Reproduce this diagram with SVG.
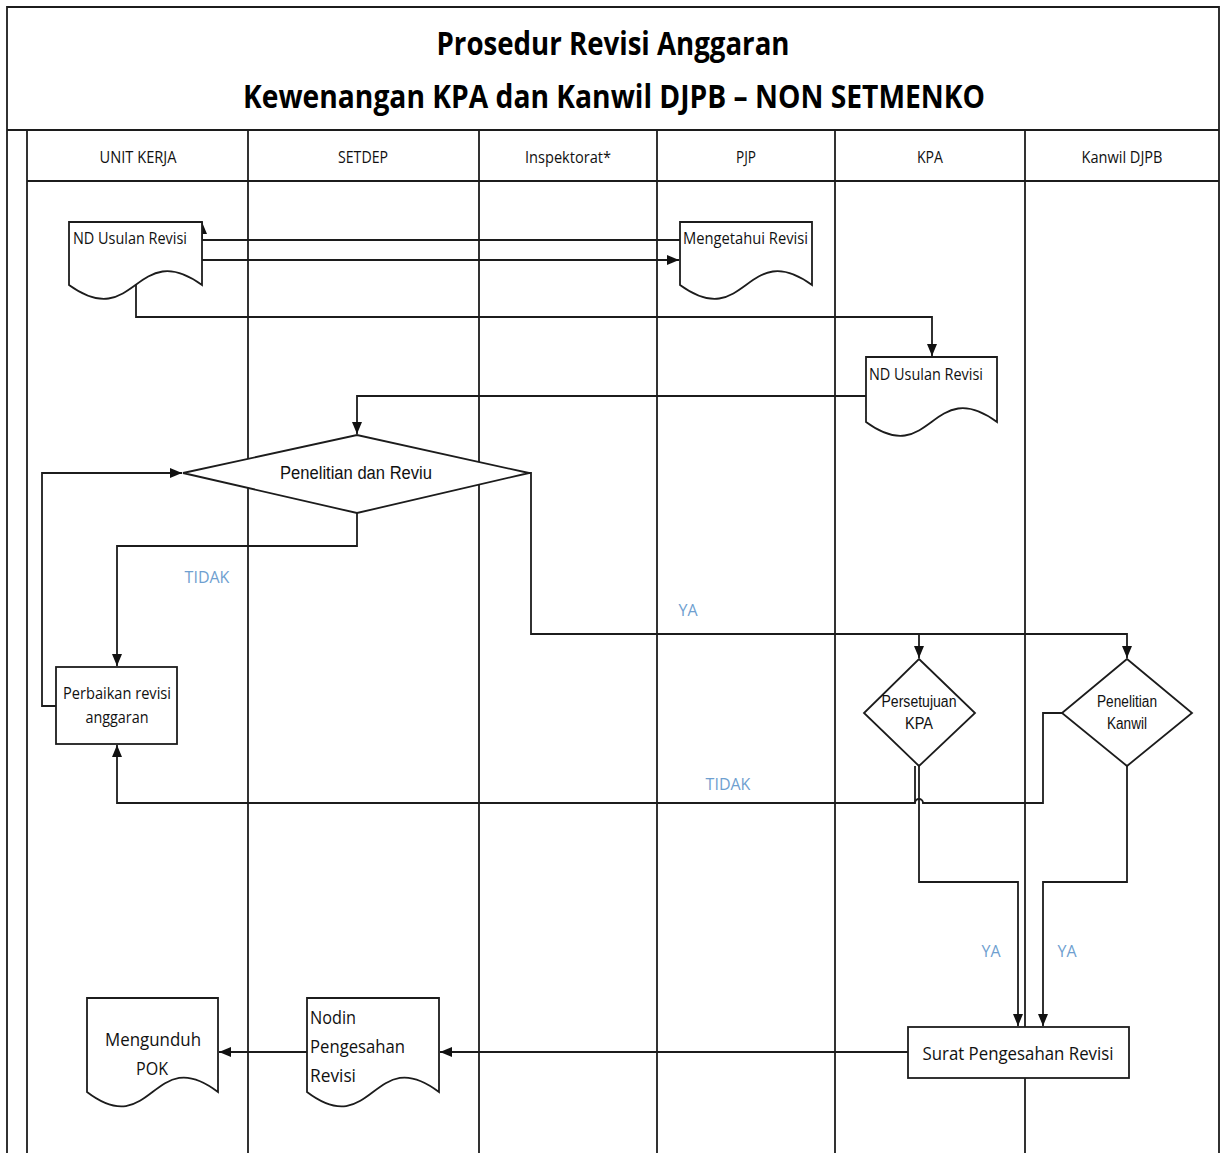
<svg xmlns="http://www.w3.org/2000/svg" width="1221" height="1153" viewBox="0 0 1221 1153">
  <style>
    .lane { stroke: #1c1c1c; stroke-width: 1.8; fill: none; }
    .shape { fill: #ffffff; stroke: #1c1c1c; stroke-width: 1.8; }
    .conn { fill: none; stroke: #1c1c1c; stroke-width: 1.8; }
    .title { font-family: "Open Sans", "Noto Sans", sans-serif; font-weight: bold; font-size: 32px; fill: #000; }
    .head { font-family: "Open Sans", "Noto Sans", sans-serif; font-size: 16px; fill: #111; }
    .cal { font-family: "Open Sans", "Noto Sans", sans-serif; fill: #111; }
    .ari { font-family: "Liberation Sans", Arial, sans-serif; fill: #111; }
    .lbl { font-family: "Open Sans", "Noto Sans", sans-serif; font-size: 16px; fill: #6f9fd0; }
  </style>
  <defs>
    <marker id="arrow" viewBox="0 0 12 10" refX="12" refY="5" markerWidth="12" markerHeight="10" markerUnits="userSpaceOnUse" orient="auto">
      <path d="M0,0 L12,5 L0,10 Z" fill="#111"/>
    </marker>
  </defs>

  <rect x="0" y="0" width="1221" height="1153" fill="#ffffff"/>

  <!-- pool frame, title band and lanes -->
  <g id="pool">
    <path class="lane" d="M7,1153 V7 H1219 V1153"/>
    <line class="lane" x1="7" y1="130" x2="1219" y2="130"/>
    <line class="lane" x1="27" y1="181" x2="1219" y2="181"/>
    <line class="lane" x1="27" y1="130" x2="27" y2="1153"/>
    <line class="lane" x1="248" y1="130" x2="248" y2="1153"/>
    <line class="lane" x1="479" y1="130" x2="479" y2="1153"/>
    <line class="lane" x1="657" y1="130" x2="657" y2="1153"/>
    <line class="lane" x1="835" y1="130" x2="835" y2="1153"/>
    <line class="lane" x1="1025" y1="130" x2="1025" y2="1153"/>
    <text class="title" x="613" y="55" text-anchor="middle" textLength="353" lengthAdjust="spacingAndGlyphs">Prosedur Revisi Anggaran</text>
    <text class="title" x="614" y="108" text-anchor="middle" textLength="742" lengthAdjust="spacingAndGlyphs">Kewenangan KPA dan Kanwil DJPB – NON SETMENKO</text>
    <text class="head" x="138" y="163" text-anchor="middle" textLength="77" lengthAdjust="spacingAndGlyphs">UNIT KERJA</text>
    <text class="head" x="363" y="163" text-anchor="middle" textLength="50" lengthAdjust="spacingAndGlyphs">SETDEP</text>
    <text class="head" x="568" y="163" text-anchor="middle" textLength="86" lengthAdjust="spacingAndGlyphs">Inspektorat*</text>
    <text class="head" x="746" y="163" text-anchor="middle" textLength="20" lengthAdjust="spacingAndGlyphs">PJP</text>
    <text class="head" x="930" y="163" text-anchor="middle" textLength="26" lengthAdjust="spacingAndGlyphs">KPA</text>
    <text class="head" x="1122" y="163" text-anchor="middle" textLength="81" lengthAdjust="spacingAndGlyphs">Kanwil DJPB</text>
  </g>

  <!-- connectors -->
  <g id="connectors">
    <path class="conn" d="M680,240 H202 V222" marker-end="url(#arrow)"/>
    <path class="conn" d="M202,260 H679" marker-end="url(#arrow)"/>
    <path class="conn" d="M136,285 V317 H932 V356" marker-end="url(#arrow)"/>
    <path class="conn" d="M866,396 H357 V434" marker-end="url(#arrow)"/>
    <path class="conn" d="M357,513 V546 H117 V666" marker-end="url(#arrow)"/>
    <path class="conn" d="M56,706 H42 V473 H182" marker-end="url(#arrow)"/>
    <path class="conn" d="M529,473 H531 V634 H1127 V658" marker-end="url(#arrow)"/>
    <path class="conn" d="M919,634 V658" marker-end="url(#arrow)"/>
    <path class="conn" d="M1062,713 H1043 V803 H923 A4,4 0 0 0 915,803 H117 V745" marker-end="url(#arrow)"/>
    <path class="conn" d="M915,766 V803"/>
    <path class="conn" d="M919,766 V882 H1018 V1026" marker-end="url(#arrow)"/>
    <path class="conn" d="M1127,766 V882 H1043 V1026" marker-end="url(#arrow)"/>
    <path class="conn" d="M908,1052 H440" marker-end="url(#arrow)"/>
    <path class="conn" d="M307,1052 H219" marker-end="url(#arrow)"/>
    <text class="lbl" x="207" y="583" text-anchor="middle">TIDAK</text>
    <text class="lbl" x="688" y="616" text-anchor="middle">YA</text>
    <text class="lbl" x="728" y="790" text-anchor="middle">TIDAK</text>
    <text class="lbl" x="991" y="957" text-anchor="middle">YA</text>
    <text class="lbl" x="1067" y="957" text-anchor="middle">YA</text>
  </g>

  <!-- documents -->
  <g id="nd-usulan-unit">
    <path class="shape" d="M69,222 H202 V285 C135.5,237 135.5,333 69,285 Z"/>
    <text class="cal" x="73" y="244" font-size="16" textLength="114" lengthAdjust="spacingAndGlyphs">ND Usulan Revisi</text>
  </g>
  <g id="mengetahui-revisi">
    <path class="shape" d="M680,222 H812 V285 C746,237 746,333 680,285 Z"/>
    <text class="cal" x="683" y="244" font-size="16" textLength="125" lengthAdjust="spacingAndGlyphs">Mengetahui Revisi</text>
  </g>
  <g id="nd-usulan-kpa">
    <path class="shape" d="M866,357 H997 V422 C931.5,374 931.5,470 866,422 Z"/>
    <text class="cal" x="869" y="380" font-size="16" textLength="114" lengthAdjust="spacingAndGlyphs">ND Usulan Revisi</text>
  </g>

  <!-- review decision -->
  <g id="penelitian-reviu">
    <path class="shape" d="M183,473 L357,435 L529,473 L357,513 Z"/>
    <text class="ari" x="356" y="479" font-size="18" text-anchor="middle" textLength="152" lengthAdjust="spacingAndGlyphs">Penelitian dan Reviu</text>
  </g>

  <g id="perbaikan-revisi">
    <rect class="shape" x="56" y="667" width="121" height="77"/>
    <text class="cal" x="117" y="699" font-size="16" text-anchor="middle" textLength="108" lengthAdjust="spacingAndGlyphs">Perbaikan revisi</text>
    <text class="cal" x="117" y="723" font-size="16" text-anchor="middle" textLength="63" lengthAdjust="spacingAndGlyphs">anggaran</text>
  </g>

  <g id="persetujuan-kpa">
    <path class="shape" d="M919,659 L975,713 L919,766 L864,713 Z"/>
    <text class="ari" x="919" y="707" font-size="16" text-anchor="middle" textLength="75" lengthAdjust="spacingAndGlyphs">Persetujuan</text>
    <text class="ari" x="919" y="729" font-size="16" text-anchor="middle" textLength="28" lengthAdjust="spacingAndGlyphs">KPA</text>
  </g>

  <g id="penelitian-kanwil">
    <path class="shape" d="M1127,659 L1192,713 L1127,766 L1062,713 Z"/>
    <text class="ari" x="1127" y="707" font-size="16" text-anchor="middle" textLength="60" lengthAdjust="spacingAndGlyphs">Penelitian</text>
    <text class="ari" x="1127" y="729" font-size="16" text-anchor="middle" textLength="40" lengthAdjust="spacingAndGlyphs">Kanwil</text>
  </g>

  <g id="surat-pengesahan">
    <rect class="shape" x="908" y="1027" width="221" height="51"/>
    <text class="cal" x="1018" y="1060" font-size="19" text-anchor="middle" textLength="191" lengthAdjust="spacingAndGlyphs">Surat Pengesahan Revisi</text>
  </g>

  <g id="nodin-pengesahan">
    <path class="shape" d="M307,998 H439 V1092 C373,1042 373,1142 307,1092 Z"/>
    <text class="cal" x="310" y="1024" font-size="19" textLength="46" lengthAdjust="spacingAndGlyphs">Nodin</text>
    <text class="cal" x="310" y="1053" font-size="19" textLength="95" lengthAdjust="spacingAndGlyphs">Pengesahan</text>
    <text class="cal" x="310" y="1082" font-size="19" textLength="46" lengthAdjust="spacingAndGlyphs">Revisi</text>
  </g>

  <g id="mengunduh-pok">
    <path class="shape" d="M87,998 H218 V1092 C152.5,1042 152.5,1142 87,1092 Z"/>
    <text class="cal" x="153" y="1046" font-size="19" text-anchor="middle" textLength="96" lengthAdjust="spacingAndGlyphs">Mengunduh</text>
    <text class="cal" x="152" y="1075" font-size="19" text-anchor="middle" textLength="32" lengthAdjust="spacingAndGlyphs">POK</text>
  </g>
</svg>
